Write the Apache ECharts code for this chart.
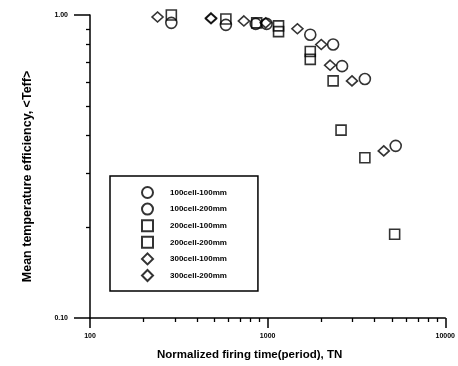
<!DOCTYPE html>
<html>
<head>
<meta charset="utf-8">
<script src="https://cdn.jsdelivr.net/npm/echarts@6/dist/echarts.min.js"></script>
<style>html,body{margin:0;padding:0;background:#fff}#c{width:458px;height:366px}</style>
</head>
<body>
<div id="c"></div>
<script>
// Series data: [normalized firing time TN, mean temperature efficiency]
const s100c100 = [[287,0.942],[857,0.935],[1738,0.861],[2624,0.678],[5260,0.370]];
const s100c200 = [[582,0.928],[987,0.935],[2337,0.799],[3527,0.615]];
const s200c100 = [[287,1.0],[868,0.942],[1152,0.921],[1738,0.758],[2337,0.606],[3527,0.338]];
const s200c200 = [[582,0.970],[1152,0.881],[1738,0.714],[2590,0.417],[5188,0.189]];
const s300c100 = [[240,0.985],[480,0.978],[975,0.942],[2004,0.799],[2985,0.606]];
const s300c200 = [[480,0.972],[735,0.956],[1471,0.901],[2248,0.683],[4505,0.356]];

const seriesNames = ['100cell-100mm','100cell-200mm','200cell-100mm','200cell-200mm','300cell-100mm','300cell-200mm'];
const seriesSymbols = ['circle','circle','rect','rect','diamond','diamond'];
const seriesSizes = [11,11,10,10,[11,10],[11,10]];
const seriesData = [s100c100,s100c200,s200c100,s200c200,s300c100,s300c200];

const xMajorTicks = [100,1000,10000];
const xMinorTicks = [200,300,400,500,600,700,800,900,2000,3000,4000,5000,6000,7000,8000,9000];
const yMajorTicks = [0.1,1];
const yMinorTicks = [0.2,0.3,0.4,0.5,0.6,0.7,0.8,0.9];

const FONT = '"Liberation Sans", Arial, sans-serif';
const chart = echarts.init(document.getElementById('c'), null, {renderer:'canvas'});

const baseX = {type:'log', logBase:10, min:100, max:10000, position:'bottom', splitLine:{show:false}};
const baseY = {type:'log', logBase:10, min:0.1, max:1, position:'left', splitLine:{show:false}};

chart.setOption({
  animation:false,
  backgroundColor:'#fff',
  grid:{left:90, right:10, top:15, bottom:43},
  legend:{
    orient:'vertical', left:110, top:176,
    data:seriesNames,
    itemWidth:11, itemHeight:11, itemGap:3.6,
    padding:[10,31,9,31],
    borderColor:'#000', borderWidth:1.5,
    textStyle:{fontFamily:FONT, fontSize:8, fontWeight:'bold', color:'#000', padding:[0,0,0,12]}
  },
  xAxis:[
    Object.assign({}, baseX, {
      name:'Normalized firing time(period), TN', nameLocation:'middle', nameGap:31,
      nameTextStyle:{fontFamily:FONT, fontSize:11.5, fontWeight:'bold', color:'#000', padding:[0,36,0,0]},
      axisLine:{show:true, lineStyle:{color:'#000', width:1.5}},
      axisTick:{show:true, inside:false, length:4, customValues:xMinorTicks, lineStyle:{color:'#000', width:1.3}},
      axisLabel:{show:true, margin:15, customValues:xMajorTicks, fontFamily:FONT, fontSize:7, fontWeight:'bold', color:'#000', formatter:v=>String(Math.round(v))}
    }),
    Object.assign({}, baseX, {
      axisLine:{show:false},
      axisTick:{show:true, length:10, customValues:xMajorTicks, lineStyle:{color:'#000', width:1.5}},
      axisLabel:{show:false}
    })
  ],
  yAxis:[
    Object.assign({}, baseY, {
      name:'Mean temperature efficiency, <Teff>', nameLocation:'middle', nameGap:56,
      nameTextStyle:{fontFamily:FONT, fontSize:12.5, fontWeight:'bold', color:'#000', padding:[0,20,0,0]},
      axisLine:{show:true, lineStyle:{color:'#000', width:1.5}},
      axisTick:{show:true, inside:false, length:4, customValues:yMinorTicks, lineStyle:{color:'#000', width:1.3}},
      axisLabel:{show:true, margin:22, customValues:yMajorTicks, fontFamily:FONT, fontSize:7, fontWeight:'bold', color:'#000', formatter:v=>v.toFixed(2)}
    }),
    Object.assign({}, baseY, {
      axisLine:{show:false},
      axisTick:{show:true, length:16, customValues:yMajorTicks, lineStyle:{color:'#000', width:1.5}},
      axisLabel:{show:false}
    })
  ],
  series: seriesNames.map((n,i)=>({
    name:n, type:'scatter', xAxisIndex:0, yAxisIndex:0,
    symbol:seriesSymbols[i], symbolSize:seriesSizes[i],
    itemStyle:{color:'rgba(255,255,255,0)', borderColor:'#000', borderWidth:1.6},
    data:seriesData[i]
  }))
});
</script>
</body>
</html>
